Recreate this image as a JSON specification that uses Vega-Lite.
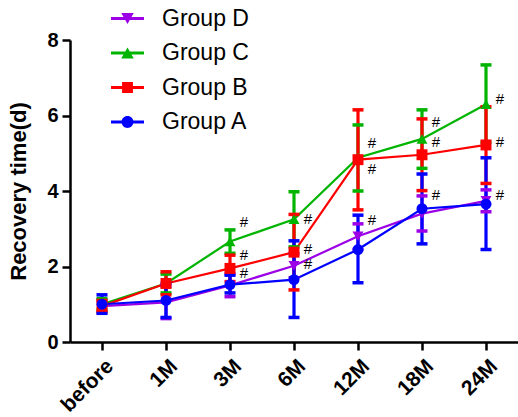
{
  "$schema": "https://vega.github.io/schema/vega-lite/v6.json",
  "width": 448,
  "height": 302,
  "autosize": {"type": "none"},
  "padding": {"left": 70, "top": 40, "right": 0, "bottom": 75},
  "background": "white",
  "config": {
    "font": "Liberation Sans",
    "view": {"stroke": null},
    "axis": {
      "domainColor": "#000", "domainWidth": 2.5, "tickColor": "#000", "tickWidth": 2.5, "tickSize": 8,
      "labelColor": "#000", "labelFontWeight": "bold", "labelFontSize": 20, "grid": false,
      "titleColor": "#000", "titleFontWeight": "bold", "titleFontSize": 22
    }
  },
  "datasets": {
    "groups": [
      {"group": "Group D", "time": "before", "mean": 0.95, "lo": 0.78, "hi": 1.12},
      {"group": "Group D", "time": "1M", "mean": 1.05, "lo": 0.62, "hi": 1.48},
      {"group": "Group D", "time": "3M", "mean": 1.5, "lo": 1.2, "hi": 1.8},
      {"group": "Group D", "time": "6M", "mean": 2.02, "lo": 1.7, "hi": 2.34},
      {"group": "Group D", "time": "12M", "mean": 2.8, "lo": 2.45, "hi": 3.13},
      {"group": "Group D", "time": "18M", "mean": 3.4, "lo": 2.94, "hi": 3.87},
      {"group": "Group D", "time": "24M", "mean": 3.74, "lo": 3.45, "hi": 4.03},
      {"group": "Group C", "time": "before", "mean": 1.0, "lo": 0.85, "hi": 1.15},
      {"group": "Group C", "time": "1M", "mean": 1.55, "lo": 1.3, "hi": 1.8},
      {"group": "Group C", "time": "3M", "mean": 2.66, "lo": 2.35, "hi": 2.97},
      {"group": "Group C", "time": "6M", "mean": 3.25, "lo": 2.52, "hi": 3.98},
      {"group": "Group C", "time": "12M", "mean": 4.88, "lo": 4.0, "hi": 5.75},
      {"group": "Group C", "time": "18M", "mean": 5.38, "lo": 4.6, "hi": 6.15},
      {"group": "Group C", "time": "24M", "mean": 6.3, "lo": 5.29, "hi": 7.34},
      {"group": "Group B", "time": "before", "mean": 0.95, "lo": 0.8, "hi": 1.1},
      {"group": "Group B", "time": "1M", "mean": 1.55, "lo": 1.25, "hi": 1.86},
      {"group": "Group B", "time": "3M", "mean": 1.95, "lo": 1.6, "hi": 2.3},
      {"group": "Group B", "time": "6M", "mean": 2.38, "lo": 1.38, "hi": 3.38},
      {"group": "Group B", "time": "12M", "mean": 4.83, "lo": 3.5, "hi": 6.15},
      {"group": "Group B", "time": "18M", "mean": 4.96, "lo": 4.01, "hi": 5.91},
      {"group": "Group B", "time": "24M", "mean": 5.22, "lo": 4.2, "hi": 6.23},
      {"group": "Group A", "time": "before", "mean": 1.0, "lo": 0.76, "hi": 1.25},
      {"group": "Group A", "time": "1M", "mean": 1.1, "lo": 0.65, "hi": 1.55},
      {"group": "Group A", "time": "3M", "mean": 1.52, "lo": 1.3, "hi": 1.77},
      {"group": "Group A", "time": "6M", "mean": 1.65, "lo": 0.65, "hi": 2.68},
      {"group": "Group A", "time": "12M", "mean": 2.45, "lo": 1.57, "hi": 3.36},
      {"group": "Group A", "time": "18M", "mean": 3.53, "lo": 2.6, "hi": 4.45},
      {"group": "Group A", "time": "24M", "mean": 3.65, "lo": 2.45, "hi": 4.88}
    ],
    "marks": [
      {"time": "3M", "y": 3.19, "label": "#"},
      {"time": "3M", "y": 2.3, "label": "#"},
      {"time": "3M", "y": 1.82, "label": "#"},
      {"time": "6M", "y": 3.25, "label": "#"},
      {"time": "6M", "y": 2.47, "label": "#"},
      {"time": "6M", "y": 2.06, "label": "#"},
      {"time": "12M", "y": 5.26, "label": "#"},
      {"time": "12M", "y": 4.59, "label": "#"},
      {"time": "12M", "y": 3.23, "label": "#"},
      {"time": "18M", "y": 5.84, "label": "#"},
      {"time": "18M", "y": 5.31, "label": "#"},
      {"time": "18M", "y": 3.89, "label": "#"},
      {"time": "24M", "y": 6.45, "label": "#"},
      {"time": "24M", "y": 5.29, "label": "#"},
      {"time": "24M", "y": 3.89, "label": "#"}
    ]
  },
  "encoding": {
    "x": {
      "field": "time", "type": "ordinal",
      "scale": {"type": "point", "domain": ["before", "1M", "3M", "6M", "12M", "18M", "24M"], "padding": 0.5},
      "axis": {"title": null, "labelAngle": -45, "labelPadding": 5, "labelFontSize": 21}
    }
  },
  "layer": [
    {
      "data": {"name": "groups"},
      "mark": {"type": "line", "strokeWidth": 2.2},
      "encoding": {
        "y": {"field": "mean", "type": "quantitative", "scale": {"domain": [0, 8]}, "title": "Recovery time(d)",
              "axis": {"values": [0, 2, 4, 6, 8], "title": "Recovery time(d)", "labelPadding": 4, "titlePadding": 16}},
        "color": {"field": "group", "type": "nominal",
                  "scale": {"domain": ["Group D", "Group C", "Group B", "Group A"], "range": ["#9B00E6", "#00B400", "#FF0000", "#0000FF"]}}
      }
    },
    {
      "data": {"name": "groups"},
      "mark": {"type": "rule", "strokeWidth": 3.2},
      "encoding": {
        "y": {"field": "lo", "type": "quantitative", "title": "Recovery time(d)"},
        "y2": {"field": "hi"},
        "color": {"field": "group", "type": "nominal"}
      }
    },
    {
      "data": {"name": "groups"},
      "mark": {"type": "tick", "size": 11, "thickness": 3.5, "opacity": 1},
      "encoding": {
        "y": {"field": "lo", "type": "quantitative", "title": "Recovery time(d)"},
        "color": {"field": "group", "type": "nominal"}
      }
    },
    {
      "data": {"name": "groups"},
      "mark": {"type": "tick", "size": 11, "thickness": 3.5, "opacity": 1},
      "encoding": {
        "y": {"field": "hi", "type": "quantitative", "title": "Recovery time(d)"},
        "color": {"field": "group", "type": "nominal"}
      }
    },
    {
      "data": {"name": "groups"},
      "transform": [{"filter": "datum.group === 'Group D'"}],
      "mark": {"type": "point", "filled": true, "opacity": 1, "size": 120, "shape": "triangle-down"},
      "encoding": {
        "y": {"field": "mean", "type": "quantitative", "title": "Recovery time(d)"},
        "color": {"field": "group", "type": "nominal",
                  "legend": {
                    "title": null, "orient": "none", "legendX": 41, "legendY": -38, "padding": 0,
                    "symbolSize": 1089, "symbolStrokeWidth": 0, "symbolOpacity": 1,
                    "labelFontSize": 23, "labelColor": "#000", "labelOffset": 18, "rowPadding": 5.5,
                    "encode": {"symbols": {"update": {"shape": {"signal": "datum.value === 'Group D' ? 'M-1,-0.09H1V0.09H-1Z M-0.38,-0.33L0.38,-0.33L0,0.33Z' : datum.value === 'Group C' ? 'M-1,-0.09H1V0.09H-1Z M0.38,0.33L-0.38,0.33L0,-0.33Z' : datum.value === 'Group B' ? 'M-1,-0.09H1V0.09H-1Z M-0.33,-0.33H0.33V0.33H-0.33Z' : 'M-1,-0.09H1V0.09H-1Z M0.36,0A0.36,0.36 0 1,1 -0.36,0A0.36,0.36 0 1,1 0.36,0Z'"}}}}
                  }}
      }
    },
    {
      "data": {"name": "groups"},
      "transform": [{"filter": "datum.group === 'Group C'"}],
      "mark": {"type": "point", "filled": true, "opacity": 1, "size": 120, "shape": "triangle-up"},
      "encoding": {
        "y": {"field": "mean", "type": "quantitative", "title": "Recovery time(d)"},
        "color": {"field": "group", "type": "nominal"}
      }
    },
    {
      "data": {"name": "groups"},
      "transform": [{"filter": "datum.group === 'Group B'"}],
      "mark": {"type": "point", "filled": true, "opacity": 1, "size": 120, "shape": "square"},
      "encoding": {
        "y": {"field": "mean", "type": "quantitative", "title": "Recovery time(d)"},
        "color": {"field": "group", "type": "nominal"}
      }
    },
    {
      "data": {"name": "groups"},
      "transform": [{"filter": "datum.group === 'Group A'"}],
      "mark": {"type": "point", "filled": true, "opacity": 1, "size": 120, "shape": "circle"},
      "encoding": {
        "y": {"field": "mean", "type": "quantitative", "title": "Recovery time(d)"},
        "color": {"field": "group", "type": "nominal"}
      }
    },
    {
      "data": {"name": "marks"},
      "mark": {"type": "text", "fontSize": 15, "color": "#000", "dx": 14, "align": "center", "baseline": "middle"},
      "encoding": {
        "y": {"field": "y", "type": "quantitative", "title": "Recovery time(d)"},
        "text": {"field": "label"}
      }
    }
  ]
}
